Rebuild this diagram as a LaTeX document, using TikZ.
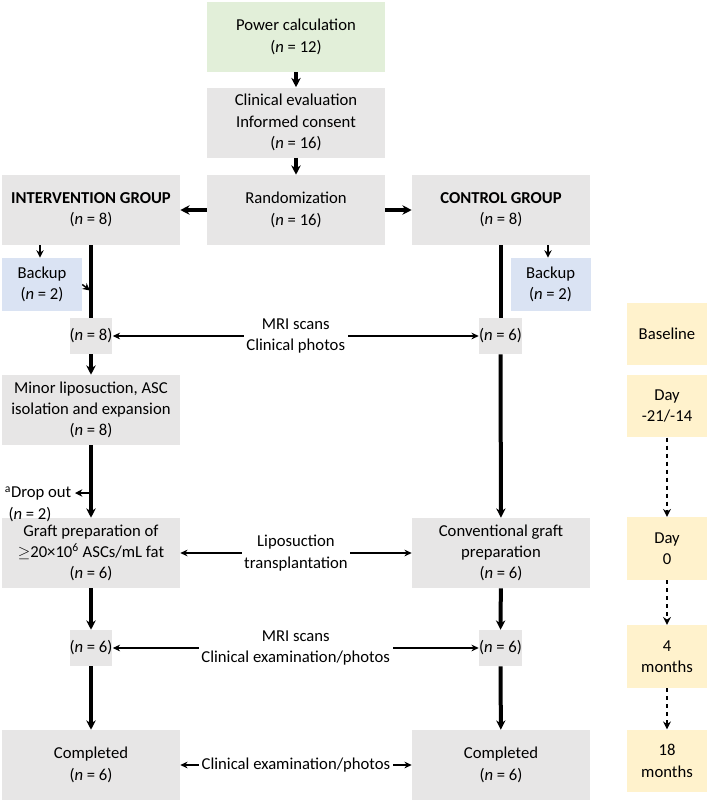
\documentclass[tikz,border=0pt]{standalone}
\usepackage{fontspec}
\setmainfont{Carlito}
\usetikzlibrary{arrows.meta}
\definecolor{gbox}{HTML}{E7E6E6}
\definecolor{grn}{HTML}{E2EFD9}
\definecolor{blu}{HTML}{DAE3F3}
\definecolor{yel}{HTML}{FFF2CC}
\begin{document}
\begin{tikzpicture}[x=0.75pt,y=-0.75pt,
  box/.style={fill=gbox,draw=none,minimum width=133.5pt,minimum height=52.5pt,align=center,inner sep=0pt},
  sbox/.style={fill=gbox,draw=none,minimum width=32pt,minimum height=27pt,inner sep=0pt},
  bk/.style={fill=blu,draw=none,minimum width=60pt,minimum height=40pt,align=center,inner sep=0pt},
  yb/.style={fill=yel,draw=none,minimum width=60pt,minimum height=47pt,align=center,inner sep=0pt},
  thick arr/.style={line width=3pt,-{Stealth[length=7pt,width=7pt]}},
  thin arr/.style={line width=1.1pt,-{Stealth[length=5.5pt,width=5.5pt]}},
  dbl/.style={line width=0.8pt,{Stealth[length=5.5pt,width=5pt]}-{Stealth[length=5.5pt,width=5pt]}},
  lbl/.style={fill=white,align=center,inner sep=2pt},
  font=\fontsize{12.5}{16}\selectfont]
\useasboundingbox (0,0) rectangle (709,800);
\node[box,fill=grn] (pow) at (296,37) {Power calculation\\(\textit{n} = 12)};
\node[box] (clin) at (296,122.5) {Clinical evaluation\\Informed consent\\(\textit{n} = 16)};
\node[box] (rand) at (296,210) {Randomization\\(\textit{n} = 16)};
\node[box] (int) at (91,210) {\textbf{INTERVENTION GROUP}\\(\textit{n} = 8)};
\node[box] (ctl) at (501,210) {\textbf{CONTROL GROUP}\\(\textit{n} = 8)};
\node[bk] (bkl) at (42,284.5) {Backup\\(\textit{n} = 2)};
\node[bk] (bkr) at (550.5,284.5) {Backup\\(\textit{n} = 2)};
\node[sbox] (n8) at (91,336) {(\textit{n} = 8)};
\node[sbox] (n6a) at (500.5,336) {(\textit{n} = 6)};
\node[box] (minor) at (91,410) {Minor liposuction, ASC\\isolation and expansion\\(\textit{n} = 8)};
\node[box] (graft) at (91,553) {Graft preparation of\\$\geq$20×10\textsuperscript{6} ASCs/mL fat\\(\textit{n} = 6)};
\node[box] (conv) at (501,553) {Conventional graft\\preparation\\(\textit{n} = 6)};
\node[sbox] (n6b) at (91,648) {(\textit{n} = 6)};
\node[sbox] (n6c) at (500.5,648) {(\textit{n} = 6)};
\node[box] (compl) at (91,765) {Completed\\(\textit{n} = 6)};
\node[box] (compr) at (501,765) {Completed\\(\textit{n} = 6)};
\node[align=left,inner sep=0pt] (drop) at (38,504) {\textsuperscript{a}Drop out\\\ (\textit{n} = 2)};
\node[yb] (y1) at (667,334) {Baseline};
\node[yb] (y2) at (667,406) {Day\\-21/-14};
\node[yb] (y3) at (667,548.5) {Day\\0};
\node[yb] (y4) at (667,656.5) {4\\months};
\node[yb] (y5) at (667,761) {18\\months};
% main arrows
\draw[thick arr] (pow) -- (clin);
\draw[thick arr] (clin) -- (rand);
\draw[thick arr] (rand) -- (int);
\draw[thick arr] (rand) -- (ctl);
\draw[line width=3pt] (int.south) -- (n8.north);
\draw[line width=3pt] (ctl.south -| n6a) -- (n6a.north);
\draw[thin arr] (int.south -| bkl) ++(-2,0) coordinate (a1) -- (a1 |- bkl.north);
\draw[thin arr] (ctl.south -| 548,0) coordinate (a2) -- (a2 |- bkr.north);
\draw[thin arr] (bkl.east) -- (90,290.5);
\draw[thick arr] (n8) -- (minor);
\draw[thick arr] (minor) -- (graft);
\coordinate (dj) at (91,493);
\draw[thin arr] (dj) -- (75,493);
\draw[thick arr] (n6a) -- (conv);
\draw[thick arr] (graft) -- (n6b);
\draw[thick arr] (n6b) -- (compl);
\draw[thick arr] (conv) -- (n6c);
\draw[thick arr] (n6c) -- (compr);
% middle
\draw[dbl] (n8) -- (n6a) node[midway,lbl] {MRI scans\\Clinical photos};
\draw[dbl] (graft) -- (conv) node[midway,lbl] {Liposuction\\transplantation};
\draw[dbl] (n6b) -- (n6c) node[midway,lbl] {MRI scans\\Clinical examination/photos};
\draw[dbl] (compl) -- (compr) node[midway,lbl] {Clinical examination/photos};
% timeline
\draw[line width=1pt,dashed,-{Stealth[length=6pt,width=6pt]}] (y2) -- (y3);
\draw[line width=1pt,dashed,-{Stealth[length=6pt,width=6pt]}] (y3) -- (y4);
\draw[line width=1pt,dashed,-{Stealth[length=6pt,width=6pt]}] (y4) -- (y5);
\end{tikzpicture}
\end{document}
